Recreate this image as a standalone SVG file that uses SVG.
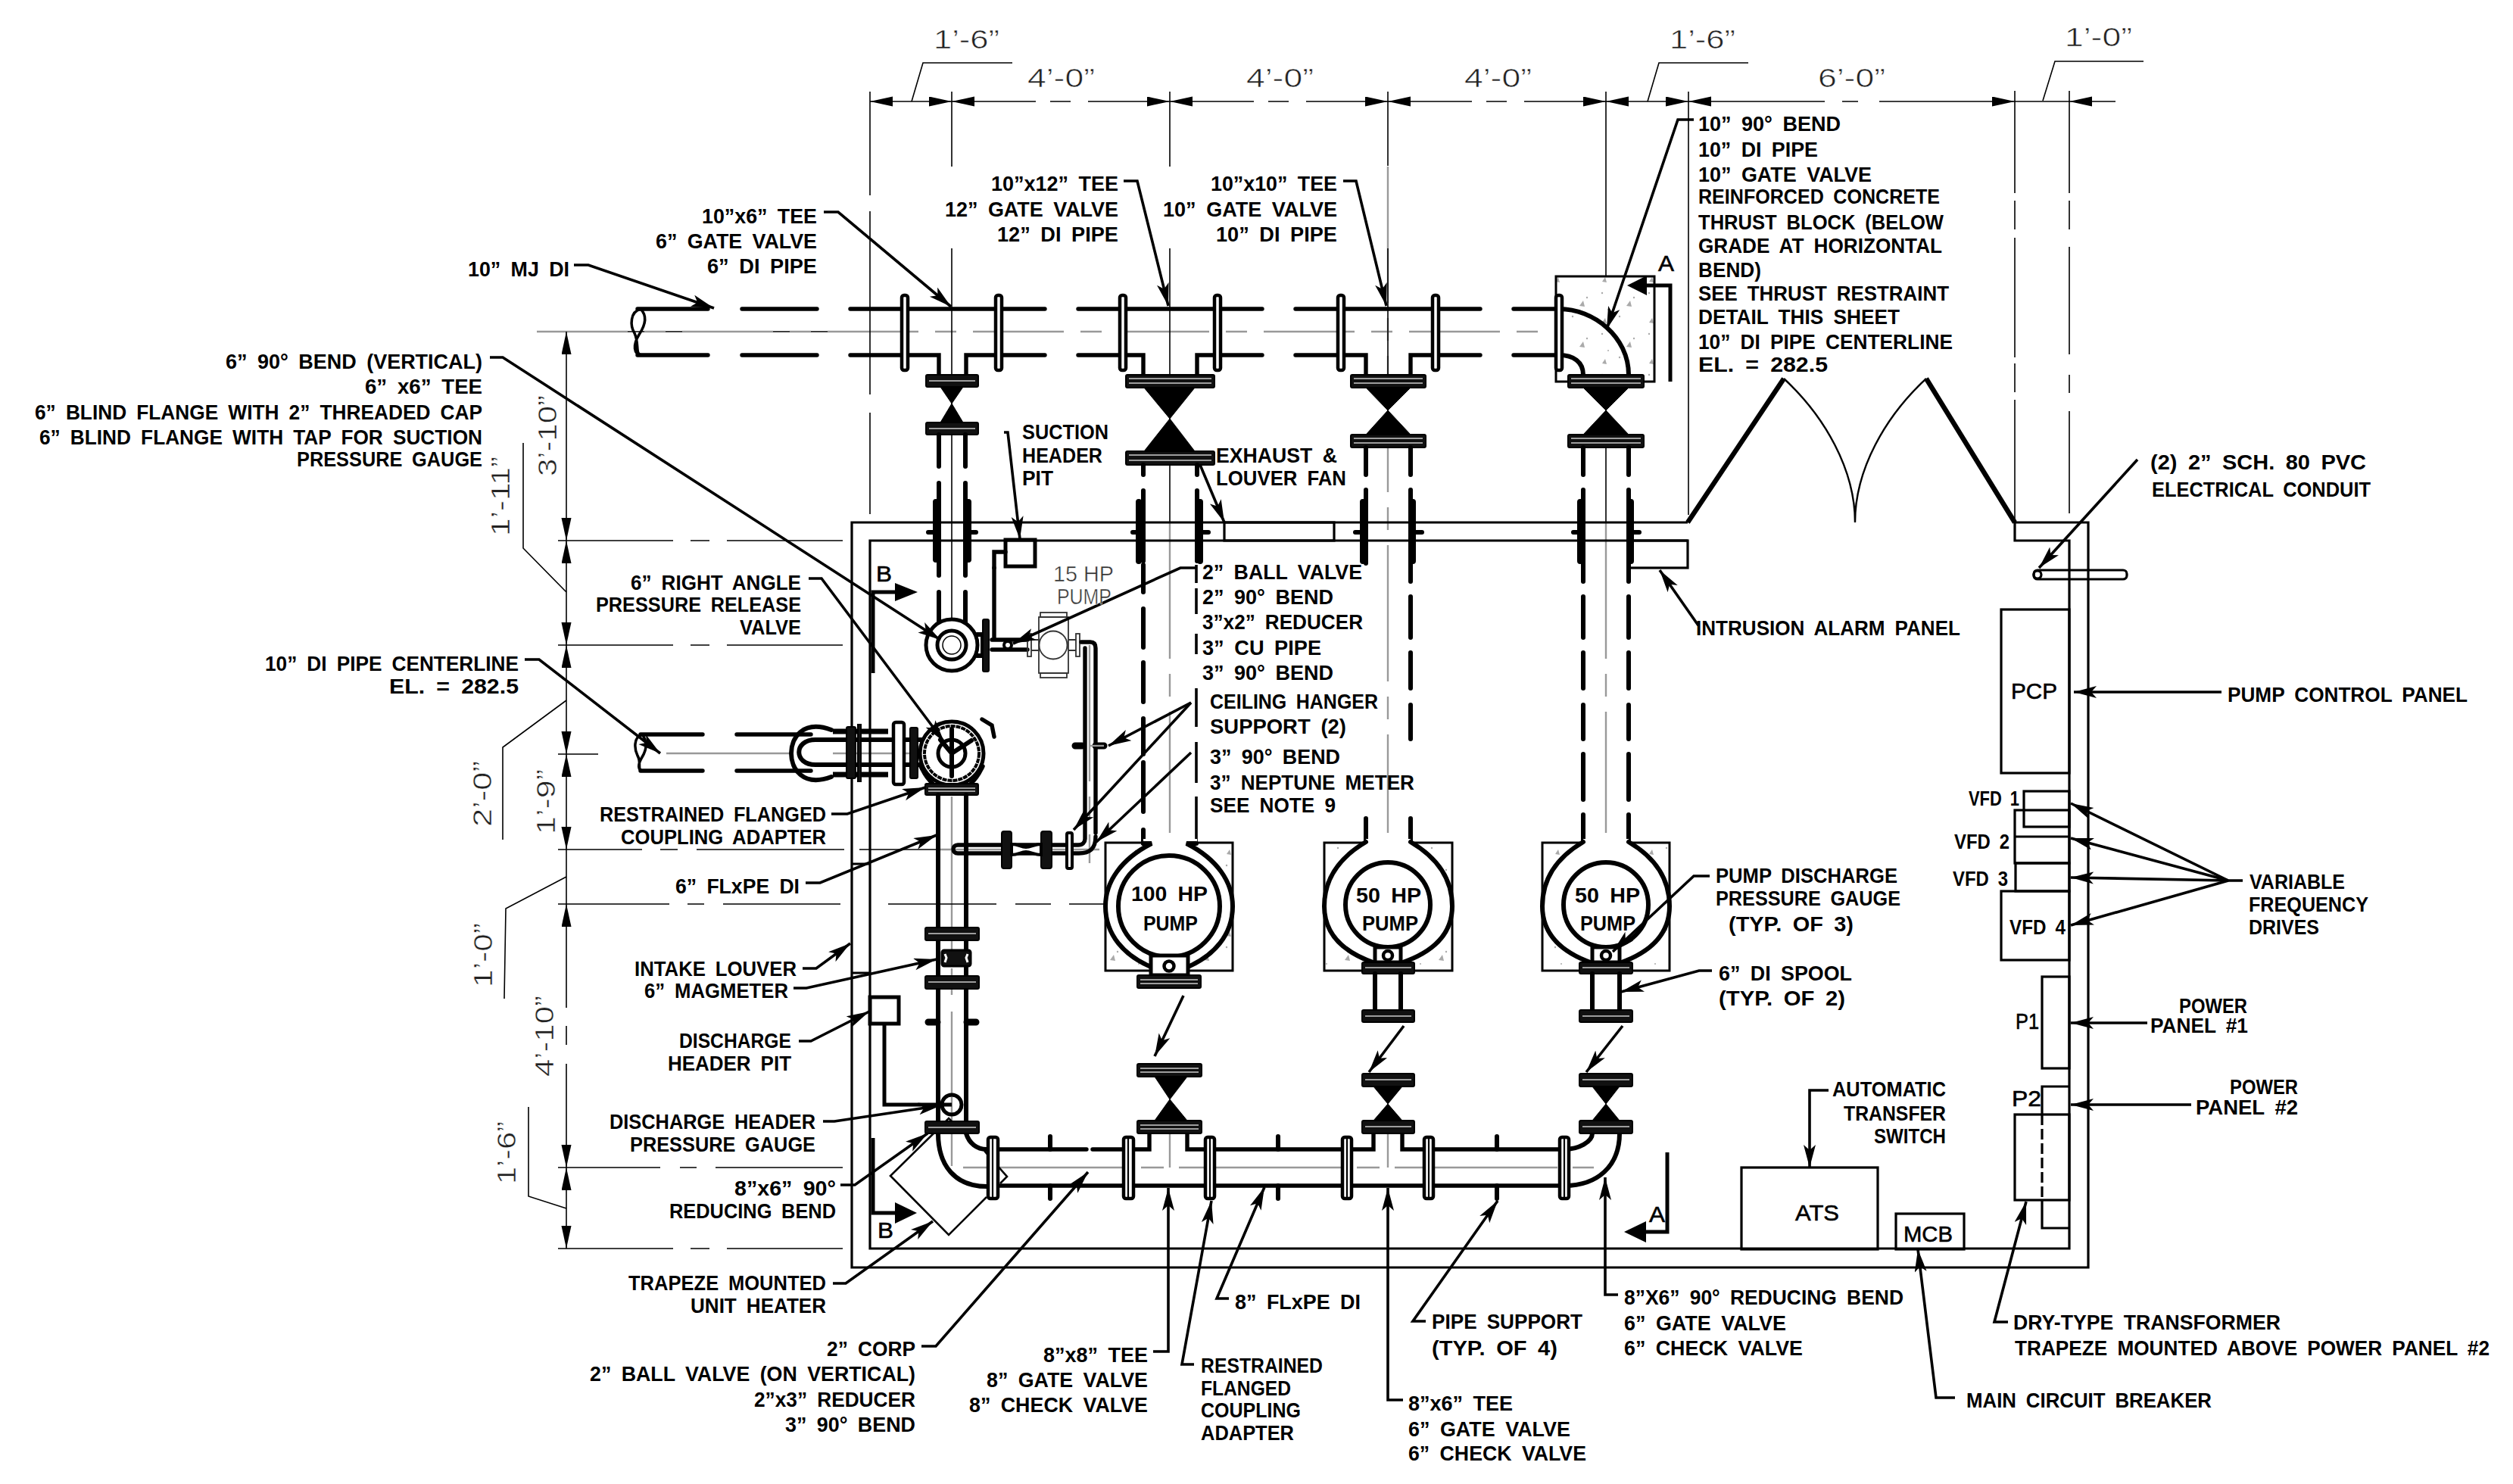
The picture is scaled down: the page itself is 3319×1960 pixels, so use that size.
<svg xmlns="http://www.w3.org/2000/svg" width="3319" height="1960" viewBox="0 0 3319 1960">
<style>
text{font-family:"Liberation Sans",Arial,sans-serif;fill:#000}
.t{font-size:27px;font-weight:700;word-spacing:6px}
.d{font-size:35px;font-weight:400;fill:#222;stroke:#fff;stroke-width:.6px}
.g{font-size:29px;font-weight:400;fill:#333;stroke:#fff;stroke-width:.5px}
.l{font-size:30px;font-weight:400;stroke:#000;stroke-width:.6px}
line,path,polyline,rect,circle,ellipse{fill:none;stroke:#000}
.thin{stroke-width:1.6}
.grey{stroke:#999;stroke-width:2.4}
.wall{stroke-width:3.2}
.p{stroke-width:5.4;stroke-linecap:round}
.pp{stroke-width:6;stroke-linecap:round}
.door{stroke-width:6.5}
.lead{stroke-width:3.6;marker-end:url(#a)}
.dim{stroke-width:1.6;marker-start:url(#da);marker-end:url(#da)}
.fb{fill:#111;stroke:#000;stroke-width:2}
.vf{fill:#fff;stroke:#000;stroke-width:4.5}
.w{stroke:#ccc;stroke-width:1.6}
.v{fill:#000;stroke:#000;stroke-width:1}
.sec{stroke-width:5}
.con{fill:url(#conc);stroke:#000;stroke-width:3}
.n{stroke-width:2.2}
.hd{fill:#000;stroke:none}
.wf{fill:#fff;stroke:none}
</style>
<defs>
<marker id="a" markerUnits="userSpaceOnUse" markerWidth="34" markerHeight="18" refX="30" refY="8" orient="auto"><path d="M0,0L30,8L0,16L7,8z" style="fill:#000;stroke:none"/></marker>
<marker id="da" markerUnits="userSpaceOnUse" markerWidth="32" markerHeight="14" refX="30" refY="6.5" orient="auto-start-reverse"><path d="M0,0L30,6.5L0,13z" style="fill:#000;stroke:none"/></marker>
<pattern id="conc" width="62" height="54" patternUnits="userSpaceOnUse">
<rect width="62" height="54" style="fill:#fff;stroke:none"/>
<circle cx="8" cy="9" r="1.2" style="fill:#aaa;stroke:none"/><circle cx="31" cy="40" r="1.2" style="fill:#aaa;stroke:none"/><circle cx="50" cy="15" r="1.2" style="fill:#aaa;stroke:none"/><circle cx="16" cy="31" r="1" style="fill:#aaa;stroke:none"/><path d="M40,26l5,-7l2,8z" style="fill:#aaa;stroke:none"/><path d="M8,48l4,-6l2,7z" style="fill:#aaa;stroke:none"/>
</pattern>
</defs>

<g id="center-lines">
<path class="thin" d="M709,438H1130"/>
<path class="grey" stroke-dasharray="120 22 28 22" d="M709,438H2192"/>
<path class="grey" stroke-dasharray="215 20 30 20" d="M1272,1542H2105"/>
<path class="grey" d="M1545,1497V1542M1833,1497V1542"/>
<path class="grey" stroke-dasharray="205 22 35 22" d="M1257,1052V1540"/>
<path class="grey" stroke-dasharray="180 20 30 20" d="M1545,690V1100M1833,220V1100M2121,690V1100M1439,852V1140"/>
<path class="grey" d="M1238,1122H1452M1100,995H1255M880,995H1042"/>
</g>

<g id="dimensions">
<path class="thin" d="M1149,121V258M1149,279V521M1149,545V679M1257,121V220M1257,328V850M1545,121V220M1545,328V690M1833,121V219M1833,328V500M2121,121V690M2230,121V680M2661,120V255M2661,265V303M2661,314V472M2661,480V518M2661,528V689M2733,120V255M2733,265V303M2733,326V468M2733,495V519M2733,543V678"/>
<path class="dim" d="M1149,134H1257"/>
<path class="dim" d="M1257,134H1368M1387,134H1414M1437,134H1545"/>
<path class="dim" d="M1545,134H1656M1675,134H1702M1725,134H1833"/>
<path class="dim" d="M1833,134H1944M1963,134H1990M2013,134H2121"/>
<path class="dim" d="M2121,134H2230"/>
<path class="dim" d="M2230,134H2410M2433,134H2454M2482,134H2661"/>
<path class="thin" d="M2661,134H2733"/>
<path class="thin" style="marker-end:url(#da)" d="M2794,134H2733"/>
<path class="dim" d="M748,438V714"/>
<path class="dim" d="M748,714V852"/>
<path class="dim" d="M748,852V996"/>
<path class="dim" d="M748,996V1122"/>
<path class="thin" d="M748,1122V1194"/>
<path class="dim" d="M748,1194V1331M748,1355V1380M748,1405V1542"/>
<path class="dim" d="M748,1542V1649"/>
<path class="thin" d="M737,714H889M912,714H937M960,714H1113M737,852H889M912,852H937M960,852H1113M737,996H790M737,1122H848M872,1122H895M920,1122H1115M1135,1122H1237M737,1194H884M908,1194H930M955,1194H1110M1173,1194H1316M1341,1194H1388M1412,1194H1533M737,1542H872M898,1542H920M945,1542H1113M737,1649H889M912,1649H937M960,1649H1113"/>
<path class="thin" d="M691,585V724L748,782M664,1109V987L748,925M666,1319L668,1200L748,1158M698,1462V1580L748,1596"/>
<path class="thin" d="M1204,134L1219,83H1337M2176,134L2191,83H2309M2698,133L2714,81H2831"/>
<text class="d" x="1233" y="64" textLength="87" lengthAdjust="spacingAndGlyphs">1’-6”</text>
<text class="d" x="2205" y="64" textLength="87" lengthAdjust="spacingAndGlyphs">1’-6”</text>
<text class="d" x="2727" y="61" textLength="89" lengthAdjust="spacingAndGlyphs">1’-0”</text>
<text class="d" x="1357" y="115" textLength="89" lengthAdjust="spacingAndGlyphs">4’-0”</text>
<text class="d" x="1646" y="115" textLength="89" lengthAdjust="spacingAndGlyphs">4’-0”</text>
<text class="d" x="1934" y="115" textLength="89" lengthAdjust="spacingAndGlyphs">4’-0”</text>
<text class="d" x="2401" y="115" textLength="89" lengthAdjust="spacingAndGlyphs">6’-0”</text>
<text class="d" transform="translate(735,629) rotate(-90)" textLength="107" lengthAdjust="spacingAndGlyphs">3’-10”</text>
<text class="d" transform="translate(673,708) rotate(-90)" textLength="105" lengthAdjust="spacingAndGlyphs">1’-11”</text>
<text class="d" transform="translate(649,1092) rotate(-90)" textLength="87" lengthAdjust="spacingAndGlyphs">2’-0”</text>
<text class="d" transform="translate(733,1102) rotate(-90)" textLength="86" lengthAdjust="spacingAndGlyphs">1’-9”</text>
<text class="d" transform="translate(650,1304) rotate(-90)" textLength="85" lengthAdjust="spacingAndGlyphs">1’-0”</text>
<text class="d" transform="translate(731,1422) rotate(-90)" textLength="107" lengthAdjust="spacingAndGlyphs">4’-10”</text>
<text class="d" transform="translate(681,1564) rotate(-90)" textLength="83" lengthAdjust="spacingAndGlyphs">1’-6”</text>
</g>

<g id="building">
<path class="wall" d="M2229,690H1125V1674H2758V690H2661V714H2733V1649H1149V714H2229"/>
<path class="door" d="M2229,690L2356,500M2544,500L2661,690"/>
<path d="M2356,500C2410,550 2450,620 2450,690M2544,500C2490,550 2450,620 2450,690" style="stroke-width:2.4"/>
<rect class="wall" x="1617" y="690" width="145" height="24"/>
<rect class="wall" x="2152" y="714" width="77" height="36"/>
<path class="wall" d="M1125,1141H1149M1125,1285H1149"/>
<rect class="con" x="2055" y="365" width="130" height="139"/>
<rect class="con" x="1460" y="1113" width="168" height="169"/>
<rect class="con" x="1749" y="1113" width="169" height="169"/>
<rect class="con" x="2037" y="1113" width="168" height="169"/>
</g>

<g id="panels">
<rect class="wall" x="2643" y="805" width="90" height="216"/>
<rect class="wall" x="2673" y="1045" width="60" height="47"/>
<rect class="wall" x="2661" y="1070" width="72" height="70"/>
<path class="wall" d="M2661,1105H2733"/>
<rect class="wall" x="2662" y="1140" width="71" height="37"/>
<rect class="wall" x="2643" y="1177" width="90" height="91"/>
<rect class="wall" x="2697" y="1290" width="36" height="121"/>
<path class="wall" d="M2697,1472V1435H2733M2697,1585V1622H2733"/>
<path class="wall" stroke-dasharray="14 5" d="M2697,1472V1585"/>
<rect class="wall" x="2661" y="1472" width="72" height="113"/>
<rect class="wall" x="2300" y="1542" width="180" height="108"/>
<rect class="wall" x="2504" y="1603" width="90" height="47"/>
<rect class="wall" x="2686" y="753" width="123" height="12" rx="5"/>
<circle class="wall" cx="2691" cy="759" r="5"/>
</g>

<g id="discharge-header">
<path d="M1233,1497L1176,1553L1253,1631L1303,1581M1321,1563L1330,1554L1300,1520M1244,1486L1253,1477L1262,1486" style="stroke-width:2.6"/>
<path class="pp" d="M1239,1497C1239,1540 1262,1567 1303,1567M1276,1497C1280,1510 1290,1518 1303,1518"/>
<path class="p" d="M1320,1518H1435M1443,1518H1482M1320,1566H1482M1499,1518H1518V1497M1568,1497V1518H1590M1499,1566H1590M1606,1518H1771M1606,1566H1771M1787,1518H1814V1497M1852,1497V1518H1880M1787,1566H1880M1895,1518H2058M1895,1566H2058"/>
<path class="pp" d="M2139,1497C2139,1540 2110,1566 2066,1566M2103,1497C2103,1508 2085,1518 2066,1518"/>
<g id="discharge-flanges">
<rect class="vf" x="1305" y="1502" width="13" height="81" rx="3"/><path class="n" d="M1311,1502V1583"/>
<rect class="vf" x="1484" y="1502" width="13" height="81" rx="3"/><path class="n" d="M1490,1502V1583"/>
<rect class="vf" x="1592" y="1502" width="12" height="81" rx="3"/><path class="n" d="M1598,1502V1583"/>
<rect class="vf" x="1773" y="1502" width="12" height="81" rx="3"/><path class="n" d="M1779,1502V1583"/>
<rect class="vf" x="1881" y="1502" width="12" height="81" rx="3"/><path class="n" d="M1887,1502V1583"/>
<rect class="vf" x="2060" y="1502" width="12" height="81" rx="3"/><path class="n" d="M2066,1502V1583"/>
<path class="pp" d="M1387,1501V1518M1387,1566V1583M1688,1501V1518M1688,1566V1583M1977,1501V1518M1977,1566V1583"/>
</g>
</g>

<g id="valves">
<g id="top-valves">
<path class="p" d="M842,408H935M980,408H1079M1123,408H1380M1424,408H1667M1711,408H1955M1999,408H2059"/>
<path class="p" d="M842,469H935M980,469H1079M1123,469H1240V495M1276,495V469H1380M1424,469H1510V495M1581,495V469H1667M1711,469H1804V495M1863,495V469H1955M1999,469H2059"/>
<path style="stroke-width:3.5" d="M846,408C832,412 832,430 838,440C845,455 838,469 848,469M846,408C856,418 852,430 844,442C836,455 836,469 848,469"/>
<path class="pp" d="M2059,408C2105,408 2151,445 2151,495M2059,469C2078,469 2091,478 2091,495"/>
<rect class="vf" x="1191" y="390" width="8" height="99" rx="3"/><rect class="vf" x="1315" y="390" width="8" height="99" rx="3"/>
<rect class="vf" x="1479" y="390" width="8" height="99" rx="3"/><rect class="vf" x="1604" y="390" width="8" height="99" rx="3"/>
<rect class="vf" x="1767" y="390" width="8" height="99" rx="3"/><rect class="vf" x="1892" y="390" width="8" height="99" rx="3"/>
<rect class="vf" x="2055" y="390" width="8" height="99" rx="3"/>
<polygon class="v" points="1242,511 1272,511 1257,533 1272,558 1242,558 1257,533"/>
<polygon class="v" points="1511,512 1578,512 1545,553 1578,596 1511,596 1545,553"/>
<polygon class="v" points="1804,512 1863,512 1833,542 1863,574 1804,574 1833,542"/>
<polygon class="v" points="2091,512 2151,512 2121,542 2151,574 2091,574 2121,542"/>
<rect class="fb" x="1223" y="495" width="69" height="16" rx="2"/><rect class="fb" x="1223" y="558" width="69" height="16" rx="2"/>
<rect class="fb" x="1487" y="495" width="117" height="17" rx="2"/><rect class="fb" x="1487" y="596" width="117" height="18" rx="2"/>
<rect class="fb" x="1784" y="495" width="99" height="17" rx="2"/><rect class="fb" x="1784" y="574" width="99" height="17" rx="2"/>
<rect class="fb" x="2071" y="495" width="100" height="17" rx="2"/><rect class="fb" x="2071" y="574" width="100" height="17" rx="2"/>
<path class="w" d="M1491,500H1600M1491,506H1600M1491,601H1600M1491,608H1600M1788,500H1879M1788,506H1879M1788,579H1879M1788,585H1879M2075,500H2167M2075,506H2167M2075,579H2167M2075,585H2167M1227,503H1288M1227,566H1288"/>
</g>
<g id="lower-valves">
<polygon class="v" points="1525,1422 1568,1422 1545,1452 1568,1480 1525,1480 1545,1452"/>
<polygon class="v" points="1814,1435 1852,1435 1833,1458 1852,1480 1814,1480 1833,1458"/>
<polygon class="v" points="2103,1435 2139,1435 2121,1458 2139,1480 2103,1480 2121,1458"/>
<rect class="fb" x="1502" y="1405" width="85" height="17" rx="2"/><rect class="fb" x="1502" y="1480" width="85" height="17" rx="2"/>
<rect class="fb" x="1799" y="1418" width="69" height="17" rx="2"/><rect class="fb" x="1799" y="1480" width="69" height="17" rx="2"/>
<rect class="fb" x="2086" y="1418" width="70" height="17" rx="2"/><rect class="fb" x="2086" y="1480" width="70" height="17" rx="2"/>
<path class="w" d="M1506,1411H1583M1506,1416H1583M1506,1486H1583M1506,1491H1583M1803,1426H1864M1803,1488H1864M2090,1426H2152M2090,1488H2152"/>
</g>
</g>

<g id="pump-pipes">
<path class="pp" d="M1240,574V616M1275,574V616M1240,638V760M1275,638V760M1240,782V822M1275,782V822"/>
<path class="pp" d="M1510,614V627M1581,614V627M1510,648V741M1581,648V741M1510,746V782M1510,804V855M1510,875V927M1510,949V996M1510,1007V1072M1510,1096V1114"/>
<path style="stroke-width:3.6" d="M1580,746V770M1580,777V811M1580,837V864M1580,909V960M1580,980V1034M1580,1052V1114"/>
<path class="pp" d="M1804,591V627M1863,591V627M1804,647V744M1863,647V735M1863,735V768M1863,788V842M1863,862V909M1863,931V976M1804,1081V1112M1863,1081V1112"/>
<path class="pp" d="M2091,591V627M2151,591V627M2091,647V768M2151,647V768M2091,788V842M2151,788V842M2091,862V909M2151,862V909M2091,931V976M2151,931V976M2091,996V1056M2151,996V1056M2091,1076V1114M2151,1076V1114"/>
<path style="stroke-width:8;stroke-linecap:round" d="M1236,663V739M1279,663V739M1504,663V741M1585,663V741M1800,663V741M1866,663V741M2087,663V741M2154,663V741"/>
<path class="pp" d="M1226,703H1233M1282,703H1289M1496,703H1500M1588,703H1596M1790,703H1796M1870,703H1878M2078,703H2084M2157,703H2165"/>
</g>

<g id="pump-100hp">
<path class="wf" d="M1510,1108H1581V1114L1567,1114C1608,1135 1628,1165 1628,1197C1628,1235 1603,1262 1569,1277H1520C1485,1262 1460,1235 1460,1197C1460,1165 1480,1135 1521,1114H1510z"/>
<path class="pp" d="M1510,1114H1521C1480,1135 1460,1165 1460,1197C1460,1235 1485,1262 1520,1277M1580,1114H1567C1608,1135 1628,1165 1628,1197C1628,1235 1603,1262 1569,1277"/>
<circle cx="1544" cy="1197" r="67" style="stroke-width:6;fill:#fff"/>
<rect x="1520" y="1262" width="49" height="26" style="stroke-width:5;fill:#fff"/>
<circle cx="1544" cy="1276" r="6.5" style="stroke-width:4.5"/>
<rect class="fb" x="1502" y="1288" width="84" height="17" rx="2"/><path class="w" d="M1506,1294H1582M1506,1299H1582"/>
</g>
<g id="pump-50hp-a">
<path class="wf" d="M1804,1108H1863V1112C1902,1135 1918,1165 1918,1197C1918,1235 1892,1258 1850,1272H1816C1775,1258 1749,1235 1749,1197C1749,1165 1765,1135 1804,1112z"/>
<path class="pp" d="M1804,1112C1765,1135 1749,1165 1749,1197C1749,1235 1775,1258 1816,1272M1863,1112C1902,1135 1918,1165 1918,1197C1918,1235 1892,1258 1850,1272"/>
<circle cx="1833" cy="1195" r="56" style="stroke-width:6;fill:#fff"/>
<rect x="1816" y="1251" width="34" height="20" style="stroke-width:5;fill:#fff"/>
<circle cx="1833" cy="1262" r="6" style="stroke-width:4.5"/>
<rect class="fb" x="1799" y="1271" width="69" height="15" rx="2"/>
<path class="pp" d="M1816,1286V1334M1850,1286V1334"/>
<rect class="fb" x="1799" y="1334" width="69" height="16" rx="2"/>
<path class="w" d="M1803,1278H1864M1803,1342H1864"/>
</g>
<g id="pump-50hp-b">
<path class="wf" d="M2091,1108H2151V1112C2190,1135 2205,1165 2205,1197C2205,1235 2179,1258 2139,1272H2103C2063,1258 2037,1235 2037,1197C2037,1165 2052,1135 2091,1112z"/>
<path class="pp" d="M2091,1112C2052,1135 2037,1165 2037,1197C2037,1235 2063,1258 2103,1272M2151,1112C2190,1135 2205,1165 2205,1197C2205,1235 2179,1258 2139,1272"/>
<circle cx="2121" cy="1195" r="56" style="stroke-width:6;fill:#fff"/>
<rect x="2103" y="1251" width="36" height="20" style="stroke-width:5;fill:#fff"/>
<circle cx="2121" cy="1262" r="6" style="stroke-width:4.5"/>
<rect class="fb" x="2086" y="1271" width="70" height="15" rx="2"/>
<path class="pp" d="M2103,1286V1334M2139,1286V1334"/>
<rect class="fb" x="2086" y="1334" width="70" height="16" rx="2"/>
<path class="w" d="M2090,1278H2152M2090,1342H2152"/>
</g>

<g id="suction-header">
<path class="p" d="M846,970H928M973,970H1071M846,1018H928M973,1018H1071"/>
<path style="stroke-width:3.5" d="M848,970C836,974 838,990 842,998C848,1008 840,1018 850,1018M848,970C856,980 854,990 848,1000C842,1010 842,1018 850,1018"/>
<path class="pp" d="M1098,964C1060,950 1045,975 1045,995C1045,1015 1060,1040 1098,1026"/>
<path class="pp" d="M1118,977H1077C1048,977 1048,1010 1077,1010H1118M1130,977H1178M1130,1010H1178M1195,977H1240M1195,1010H1240"/>
<path style="stroke-width:7" d="M1100,966H1173M1100,1023H1173"/>
<rect class="fb" x="1118" y="960" width="12" height="68" rx="2"/>
<rect class="fb" x="1133" y="957" width="4" height="75"/>
<rect class="vf" x="1180" y="954" width="14" height="82" rx="3"/>
<rect class="fb" x="1202" y="961" width="10" height="67" rx="2"/>
<circle cx="1257" cy="995" r="42" style="stroke-width:5;fill:#fff"/>
<circle cx="1257" cy="995" r="36" style="stroke-width:4;stroke-dasharray:6 1"/>
<circle cx="1257" cy="995" r="18" style="stroke-width:5"/>
<path class="pp" d="M1257,963V1025M1257,995L1283,978M1257,995L1242,977"/>
<path class="p" d="M1297,950L1310,958L1313,973"/>
<path class="p" d="M1216,1012C1222,1025 1226,1030 1232,1035M1298,1012C1292,1025 1288,1030 1282,1035"/>
<rect class="fb" x="1222" y="1035" width="70" height="15" rx="2"/><path class="w" d="M1226,1041H1288M1226,1045H1288"/>
<path class="pp" d="M1239,1050V1225M1276,1050V1225M1239,1242V1289M1276,1242V1289M1239,1306V1481M1276,1306V1481"/>
<rect class="fb" x="1222" y="1225" width="71" height="17" rx="2"/><rect class="fb" x="1222" y="1289" width="71" height="17" rx="2"/><rect class="fb" x="1222" y="1481" width="71" height="16" rx="2"/>
<path class="w" d="M1226,1233H1289M1226,1297H1289M1226,1489H1289"/>
<rect x="1244" y="1255" width="38" height="21" rx="3" style="fill:#111;stroke-width:3"/>
<path d="M1248,1260l2,5l-2,6M1278,1260l-2,5l2,6" style="stroke:#fff;stroke-width:3"/>
<path style="stroke-width:9;stroke-linecap:round" d="M1226,1350H1238M1277,1350H1289"/>
<circle cx="1257" cy="1459" r="13" style="stroke-width:5"/>
<rect x="1149" y="1317" width="38" height="35" style="stroke-width:5"/>
<path style="stroke-width:5" d="M1168,1352V1459H1257"/>
</g>

<g id="fifteen-hp-pump">
<path class="p" d="M1313,750V843"/>
<rect x="1328" y="713" width="39" height="35" style="stroke-width:5"/>
<path class="p" d="M1328,729H1313V750"/>
<circle cx="1257" cy="852" r="34" style="stroke-width:5;fill:#fff"/>
<circle cx="1257" cy="852" r="19" style="stroke-width:5"/>
<circle cx="1257" cy="852" r="12" style="stroke-width:1.5"/>
<path class="pp" d="M1290,838H1298V866H1290"/>
<rect class="fb" x="1298" y="818" width="8" height="69" rx="2"/>
<path class="p" d="M1310,845H1357M1310,858H1357"/>
<circle cx="1331" cy="852" r="5" style="stroke-width:4;fill:#fff"/>
<rect x="1372" y="815" width="39" height="74" style="stroke-width:1.8;stroke:#333"/><rect x="1374" y="809" width="35" height="6" style="stroke-width:1.8;stroke:#333"/><rect x="1374" y="889" width="35" height="6" style="stroke-width:1.8;stroke:#333"/><circle cx="1391" cy="852" r="18.5" style="stroke-width:1.8;stroke:#333;fill:#fff"/><rect x="1357" y="837" width="5" height="30" style="stroke-width:1.8;stroke:#333"/><rect x="1421" y="837" width="5" height="30" style="stroke-width:1.8;stroke:#333"/><path d="M1362,845H1372M1362,859H1372M1411,845H1421M1411,859H1421" style="stroke-width:1.8;stroke:#333"/>
<path class="p" d="M1428,848H1440C1446,848 1447,852 1447,856V1100M1433,856V1108C1433,1112 1430,1116 1424,1116H1265C1257,1116 1257,1127 1265,1127H1425C1440,1127 1447,1120 1447,1105"/>
<path style="stroke-width:9;stroke-linecap:round" d="M1420,985H1429M1447,985H1458"/>
<path class="grey" d="M1439,985H1458"/>
<rect class="fb" x="1323" y="1098" width="13" height="49" rx="3"/>
<rect class="fb" x="1375" y="1098" width="14" height="49" rx="3"/>
<rect class="vf" x="1409" y="1100" width="7" height="47" rx="2" style="stroke-width:4"/>
<path style="fill:#fff;stroke-width:4" d="M1336,1115C1345,1115 1348,1119 1355,1119C1362,1119 1366,1115 1375,1115V1129C1366,1129 1362,1125 1355,1125C1348,1125 1345,1129 1336,1129z"/>
</g>

<g id="section-markers">
<path class="sec" d="M1153,889V782H1182M1153,1503V1602H1182M2206,504V377H2175M2202,1522V1627H2174"/>
<polygon class="hd" points="1182,770 1212,782 1182,794"/>
<polygon class="hd" points="1182,1588 1211,1602 1182,1616"/>
<polygon class="hd" points="2175,364 2149,377 2175,390"/>
<polygon class="hd" points="2174,1613 2145,1627 2174,1641"/>
<text class="l" x="1157" y="768" textLength="21" lengthAdjust="spacingAndGlyphs">B</text>
<text class="l" x="1159" y="1635" textLength="21" lengthAdjust="spacingAndGlyphs">B</text>
<text class="l" x="2190" y="358" textLength="21" lengthAdjust="spacingAndGlyphs">A</text>
<text class="l" x="2178" y="1614" textLength="21" lengthAdjust="spacingAndGlyphs">A</text>
</g>

<g id="connectors">
<polyline class="lead" points="758,350 777,350 943,407"/>
<polyline class="lead" points="1088,280 1107,280 1256,405"/>
<polyline class="lead" points="1484,239 1502,239 1543,404"/>
<polyline class="lead" points="1774,239 1791,239 1831,404"/>
<polyline class="lead" points="2237,158 2216,158 2122,435"/>
<polyline class="lead" points="647,472 664,472 1242,845"/>
<polyline class="lead" points="1068,764 1085,764 1247,980"/>
<polyline class="lead" points="693,871 712,871 872,995"/>
<polyline class="lead" points="1098,1075 1119,1075 1222,1040"/>
<polyline class="lead" points="1064,1166 1083,1166 1237,1103"/>
<polyline class="lead" points="1060,1279 1078,1279 1123,1246"/>
<polyline class="lead" points="1048,1305 1065,1305 1237,1267"/>
<polyline class="lead" points="1055,1375 1071,1375 1148,1336"/>
<polyline class="lead" points="1087,1481 1102,1481 1243,1460"/>
<polyline class="lead" points="1110,1565 1129,1565 1225,1497"/>
<polyline class="lead" points="1100,1695 1117,1695 1232,1613"/>
<polyline class="lead" points="1217,1778 1236,1778 1437,1548"/>
<polyline class="lead" points="1326,571 1331,571 1347,712"/>
<polyline class="lead" points="1585,614 1617,690"/>
<polyline class="lead" points="1579,750 1559,750 1338,850"/>
<polyline class="lead" points="1573,928 1464,985"/>
<polyline class="lead" points="1573,928 1418,1096"/>
<polyline class="lead" points="1573,994 1448,1112"/>
<polyline class="lead" points="1563,1315 1525,1395"/>
<polyline class="lead" points="1854,1355 1808,1416"/>
<polyline class="lead" points="2143,1355 2095,1416"/>
<polyline class="lead" points="1523,1785 1543,1785 1543,1569"/>
<polyline class="lead" points="1577,1802 1561,1802 1600,1586"/>
<polyline class="lead" points="1623,1715 1607,1715 1670,1568"/>
<polyline class="lead" points="1883,1745 1866,1745 1978,1586"/>
<polyline class="lead" points="1853,1849 1833,1849 1833,1569"/>
<polyline class="lead" points="2137,1710 2120,1710 2120,1555"/>
<polyline class="lead" points="2258,1157 2237,1157 2130,1257"/>
<polyline class="lead" points="2261,1282 2244,1282 2141,1310"/>
<polyline class="lead" points="2243,826 2192,753"/>
<polyline class="lead" points="2823,607 2693,750"/>
<polyline class="lead" points="2934,914 2739,914"/>
<path class="lead" d="M2962,1163H2943L2735,1061"/>
<path class="lead" d="M2943,1163L2735,1107"/>
<path class="lead" d="M2943,1163L2735,1159"/>
<path class="lead" d="M2943,1163L2735,1222"/>
<polyline class="lead" points="2836,1351 2735,1351"/>
<polyline class="lead" points="2894,1459 2735,1459"/>
<polyline class="lead" points="2415,1440 2390,1440 2390,1542"/>
<polyline class="lead" points="2652,1746 2634,1746 2676,1587"/>
<polyline class="lead" points="2582,1846 2557,1846 2533,1650"/>
</g>

<g id="labels">
<text class="t" x="927" y="295" textLength="152" lengthAdjust="spacingAndGlyphs">10”x6” TEE</text>
<text class="t" x="866" y="328" textLength="213" lengthAdjust="spacingAndGlyphs">6” GATE VALVE</text>
<text class="t" x="934" y="361" textLength="145" lengthAdjust="spacingAndGlyphs">6” DI PIPE</text>
<text class="t" x="618" y="365" textLength="134" lengthAdjust="spacingAndGlyphs">10” MJ DI</text>
<text class="t" x="298" y="487" textLength="339" lengthAdjust="spacingAndGlyphs">6” 90° BEND (VERTICAL)</text>
<text class="t" x="482" y="520" textLength="155" lengthAdjust="spacingAndGlyphs">6” x6” TEE</text>
<text class="t" x="46" y="554" textLength="591" lengthAdjust="spacingAndGlyphs">6” BLIND FLANGE WITH 2” THREADED CAP</text>
<text class="t" x="52" y="587" textLength="585" lengthAdjust="spacingAndGlyphs">6” BLIND FLANGE WITH TAP FOR SUCTION</text>
<text class="t" x="392" y="616" textLength="245" lengthAdjust="spacingAndGlyphs">PRESSURE GAUGE</text>
<text class="t" x="1309" y="252" textLength="168" lengthAdjust="spacingAndGlyphs">10”x12” TEE</text>
<text class="t" x="1248" y="286" textLength="229" lengthAdjust="spacingAndGlyphs">12” GATE VALVE</text>
<text class="t" x="1317" y="319" textLength="160" lengthAdjust="spacingAndGlyphs">12” DI PIPE</text>
<text class="t" x="1599" y="252" textLength="167" lengthAdjust="spacingAndGlyphs">10”x10” TEE</text>
<text class="t" x="1536" y="286" textLength="230" lengthAdjust="spacingAndGlyphs">10” GATE VALVE</text>
<text class="t" x="1606" y="319" textLength="160" lengthAdjust="spacingAndGlyphs">10” DI PIPE</text>
<text class="t" x="1350" y="580" textLength="114" lengthAdjust="spacingAndGlyphs">SUCTION</text>
<text class="t" x="1350" y="611" textLength="106" lengthAdjust="spacingAndGlyphs">HEADER</text>
<text class="t" x="1350" y="641" textLength="41" lengthAdjust="spacingAndGlyphs">PIT</text>
<text class="t" x="1606" y="611" textLength="160" lengthAdjust="spacingAndGlyphs">EXHAUST &amp;</text>
<text class="t" x="1606" y="641" textLength="172" lengthAdjust="spacingAndGlyphs">LOUVER FAN</text>
<text class="t" x="2243" y="173" textLength="188" lengthAdjust="spacingAndGlyphs">10” 90° BEND</text>
<text class="t" x="2243" y="207" textLength="158" lengthAdjust="spacingAndGlyphs">10” DI PIPE</text>
<text class="t" x="2243" y="240" textLength="229" lengthAdjust="spacingAndGlyphs">10” GATE VALVE</text>
<text class="t" x="2243" y="269" textLength="319" lengthAdjust="spacingAndGlyphs">REINFORCED CONCRETE</text>
<text class="t" x="2243" y="303" textLength="324" lengthAdjust="spacingAndGlyphs">THRUST BLOCK (BELOW</text>
<text class="t" x="2243" y="334" textLength="322" lengthAdjust="spacingAndGlyphs">GRADE AT HORIZONTAL</text>
<text class="t" x="2243" y="366" textLength="83" lengthAdjust="spacingAndGlyphs">BEND)</text>
<text class="t" x="2243" y="397" textLength="331" lengthAdjust="spacingAndGlyphs">SEE THRUST RESTRAINT</text>
<text class="t" x="2243" y="428" textLength="266" lengthAdjust="spacingAndGlyphs">DETAIL THIS SHEET</text>
<text class="t" x="2243" y="461" textLength="336" lengthAdjust="spacingAndGlyphs">10” DI PIPE CENTERLINE</text>
<text class="t" x="2243" y="491" textLength="171" lengthAdjust="spacingAndGlyphs">EL. = 282.5</text>
<text class="t" x="2840" y="620" textLength="285" lengthAdjust="spacingAndGlyphs">(2) 2” SCH. 80 PVC</text>
<text class="t" x="2842" y="656" textLength="289" lengthAdjust="spacingAndGlyphs">ELECTRICAL CONDUIT</text>
<text class="t" x="833" y="779" textLength="225" lengthAdjust="spacingAndGlyphs">6” RIGHT ANGLE</text>
<text class="t" x="787" y="808" textLength="271" lengthAdjust="spacingAndGlyphs">PRESSURE RELEASE</text>
<text class="t" x="977" y="838" textLength="81" lengthAdjust="spacingAndGlyphs">VALVE</text>
<text class="t" x="350" y="886" textLength="335" lengthAdjust="spacingAndGlyphs">10” DI PIPE CENTERLINE</text>
<text class="t" x="514" y="916" textLength="171" lengthAdjust="spacingAndGlyphs">EL. = 282.5</text>
<text class="t" x="792" y="1085" textLength="299" lengthAdjust="spacingAndGlyphs">RESTRAINED FLANGED</text>
<text class="t" x="820" y="1115" textLength="271" lengthAdjust="spacingAndGlyphs">COUPLING ADAPTER</text>
<text class="t" x="892" y="1180" textLength="164" lengthAdjust="spacingAndGlyphs">6” FLxPE DI</text>
<text class="t" x="838" y="1289" textLength="214" lengthAdjust="spacingAndGlyphs">INTAKE LOUVER</text>
<text class="t" x="851" y="1318" textLength="190" lengthAdjust="spacingAndGlyphs">6” MAGMETER</text>
<text class="t" x="897" y="1384" textLength="148" lengthAdjust="spacingAndGlyphs">DISCHARGE</text>
<text class="t" x="882" y="1414" textLength="163" lengthAdjust="spacingAndGlyphs">HEADER PIT</text>
<text class="t" x="805" y="1491" textLength="272" lengthAdjust="spacingAndGlyphs">DISCHARGE HEADER</text>
<text class="t" x="832" y="1521" textLength="245" lengthAdjust="spacingAndGlyphs">PRESSURE GAUGE</text>
<text class="t" x="970" y="1579" textLength="134" lengthAdjust="spacingAndGlyphs">8”x6” 90°</text>
<text class="t" x="884" y="1609" textLength="220" lengthAdjust="spacingAndGlyphs">REDUCING BEND</text>
<text class="t" x="830" y="1704" textLength="261" lengthAdjust="spacingAndGlyphs">TRAPEZE MOUNTED</text>
<text class="t" x="912" y="1734" textLength="179" lengthAdjust="spacingAndGlyphs">UNIT HEATER</text>
<text class="t" x="1092" y="1791" textLength="117" lengthAdjust="spacingAndGlyphs">2” CORP</text>
<text class="t" x="779" y="1824" textLength="430" lengthAdjust="spacingAndGlyphs">2” BALL VALVE (ON VERTICAL)</text>
<text class="t" x="996" y="1858" textLength="213" lengthAdjust="spacingAndGlyphs">2”x3” REDUCER</text>
<text class="t" x="1037" y="1891" textLength="172" lengthAdjust="spacingAndGlyphs">3” 90° BEND</text>
<text class="t" x="1378" y="1799" textLength="138" lengthAdjust="spacingAndGlyphs">8”x8” TEE</text>
<text class="t" x="1303" y="1832" textLength="213" lengthAdjust="spacingAndGlyphs">8” GATE VALVE</text>
<text class="t" x="1280" y="1865" textLength="236" lengthAdjust="spacingAndGlyphs">8” CHECK VALVE</text>
<text class="t" x="1586" y="1813" textLength="161" lengthAdjust="spacingAndGlyphs">RESTRAINED</text>
<text class="t" x="1586" y="1843" textLength="119" lengthAdjust="spacingAndGlyphs">FLANGED</text>
<text class="t" x="1586" y="1872" textLength="132" lengthAdjust="spacingAndGlyphs">COUPLING</text>
<text class="t" x="1586" y="1902" textLength="123" lengthAdjust="spacingAndGlyphs">ADAPTER</text>
<text class="t" x="1631" y="1729" textLength="166" lengthAdjust="spacingAndGlyphs">8” FLxPE DI</text>
<text class="t" x="1891" y="1755" textLength="199" lengthAdjust="spacingAndGlyphs">PIPE SUPPORT</text>
<text class="t" x="1891" y="1790" textLength="166" lengthAdjust="spacingAndGlyphs">(TYP. OF 4)</text>
<text class="t" x="1860" y="1863" textLength="138" lengthAdjust="spacingAndGlyphs">8”x6” TEE</text>
<text class="t" x="1860" y="1897" textLength="214" lengthAdjust="spacingAndGlyphs">6” GATE VALVE</text>
<text class="t" x="1860" y="1929" textLength="235" lengthAdjust="spacingAndGlyphs">6” CHECK VALVE</text>
<text class="t" x="2145" y="1723" textLength="369" lengthAdjust="spacingAndGlyphs">8”X6” 90° REDUCING BEND</text>
<text class="t" x="2145" y="1757" textLength="214" lengthAdjust="spacingAndGlyphs">6” GATE VALVE</text>
<text class="t" x="2145" y="1790" textLength="236" lengthAdjust="spacingAndGlyphs">6” CHECK VALVE</text>
<text class="g" x="1391" y="768" textLength="80" lengthAdjust="spacingAndGlyphs">15 HP</text>
<text class="g" x="1396" y="798" textLength="72" lengthAdjust="spacingAndGlyphs">PUMP</text>
<text class="t" x="1588" y="765" textLength="211" lengthAdjust="spacingAndGlyphs">2” BALL VALVE</text>
<text class="t" x="1588" y="798" textLength="173" lengthAdjust="spacingAndGlyphs">2” 90° BEND</text>
<text class="t" x="1588" y="831" textLength="212" lengthAdjust="spacingAndGlyphs">3”x2” REDUCER</text>
<text class="t" x="1588" y="865" textLength="157" lengthAdjust="spacingAndGlyphs">3” CU PIPE</text>
<text class="t" x="1588" y="898" textLength="173" lengthAdjust="spacingAndGlyphs">3” 90° BEND</text>
<text class="t" x="1598" y="936" textLength="222" lengthAdjust="spacingAndGlyphs">CEILING HANGER</text>
<text class="t" x="1598" y="969" textLength="180" lengthAdjust="spacingAndGlyphs">SUPPORT (2)</text>
<text class="t" x="1598" y="1009" textLength="172" lengthAdjust="spacingAndGlyphs">3” 90° BEND</text>
<text class="t" x="1598" y="1043" textLength="270" lengthAdjust="spacingAndGlyphs">3” NEPTUNE METER</text>
<text class="t" x="1598" y="1073" textLength="166" lengthAdjust="spacingAndGlyphs">SEE NOTE 9</text>
<text class="t" x="2240" y="839" textLength="349" lengthAdjust="spacingAndGlyphs">INTRUSION ALARM PANEL</text>
<text class="t" x="1494" y="1190" textLength="101" lengthAdjust="spacingAndGlyphs">100 HP</text>
<text class="t" x="1510" y="1229" textLength="72" lengthAdjust="spacingAndGlyphs">PUMP</text>
<text class="t" x="1791" y="1192" textLength="86" lengthAdjust="spacingAndGlyphs">50 HP</text>
<text class="t" x="1799" y="1229" textLength="74" lengthAdjust="spacingAndGlyphs">PUMP</text>
<text class="t" x="2080" y="1192" textLength="86" lengthAdjust="spacingAndGlyphs">50 HP</text>
<text class="t" x="2087" y="1229" textLength="73" lengthAdjust="spacingAndGlyphs">PUMP</text>
<text class="t" x="2266" y="1166" textLength="240" lengthAdjust="spacingAndGlyphs">PUMP DISCHARGE</text>
<text class="t" x="2266" y="1196" textLength="244" lengthAdjust="spacingAndGlyphs">PRESSURE GAUGE</text>
<text class="t" x="2283" y="1230" textLength="165" lengthAdjust="spacingAndGlyphs">(TYP. OF 3)</text>
<text class="t" x="2270" y="1295" textLength="176" lengthAdjust="spacingAndGlyphs">6” DI SPOOL</text>
<text class="t" x="2270" y="1328" textLength="167" lengthAdjust="spacingAndGlyphs">(TYP. OF 2)</text>
<text class="t" x="2942" y="927" textLength="317" lengthAdjust="spacingAndGlyphs">PUMP CONTROL PANEL</text>
<text class="l" x="2656" y="923" textLength="61" lengthAdjust="spacingAndGlyphs">PCP</text>
<text class="t" x="2600" y="1064" textLength="67" lengthAdjust="spacingAndGlyphs">VFD 1</text>
<text class="t" x="2581" y="1121" textLength="73" lengthAdjust="spacingAndGlyphs">VFD 2</text>
<text class="t" x="2579" y="1170" textLength="73" lengthAdjust="spacingAndGlyphs">VFD 3</text>
<text class="t" x="2654" y="1234" textLength="74" lengthAdjust="spacingAndGlyphs">VFD 4</text>
<text class="t" x="2971" y="1174" textLength="126" lengthAdjust="spacingAndGlyphs">VARIABLE</text>
<text class="t" x="2970" y="1204" textLength="158" lengthAdjust="spacingAndGlyphs">FREQUENCY</text>
<text class="t" x="2970" y="1234" textLength="93" lengthAdjust="spacingAndGlyphs">DRIVES</text>
<text class="t" x="2878" y="1338" textLength="90" lengthAdjust="spacingAndGlyphs">POWER</text>
<text class="t" x="2840" y="1364" textLength="129" lengthAdjust="spacingAndGlyphs">PANEL #1</text>
<text class="t" x="2945" y="1445" textLength="90" lengthAdjust="spacingAndGlyphs">POWER</text>
<text class="t" x="2900" y="1472" textLength="135" lengthAdjust="spacingAndGlyphs">PANEL #2</text>
<text class="l" x="2662" y="1359" textLength="31" lengthAdjust="spacingAndGlyphs">P1</text>
<text class="l" x="2657" y="1461" textLength="39" lengthAdjust="spacingAndGlyphs">P2</text>
<text class="t" x="2420" y="1448" textLength="150" lengthAdjust="spacingAndGlyphs">AUTOMATIC</text>
<text class="t" x="2435" y="1480" textLength="135" lengthAdjust="spacingAndGlyphs">TRANSFER</text>
<text class="t" x="2475" y="1510" textLength="95" lengthAdjust="spacingAndGlyphs">SWITCH</text>
<text class="l" x="2371" y="1612" textLength="58" lengthAdjust="spacingAndGlyphs">ATS</text>
<text class="l" x="2514" y="1640" textLength="65" lengthAdjust="spacingAndGlyphs">MCB</text>
<text class="t" x="2659" y="1756" textLength="353" lengthAdjust="spacingAndGlyphs">DRY-TYPE TRANSFORMER</text>
<text class="t" x="2661" y="1790" textLength="627" lengthAdjust="spacingAndGlyphs">TRAPEZE MOUNTED ABOVE POWER PANEL #2</text>
<text class="t" x="2597" y="1859" textLength="324" lengthAdjust="spacingAndGlyphs">MAIN CIRCUIT BREAKER</text>
</g>
</svg>
